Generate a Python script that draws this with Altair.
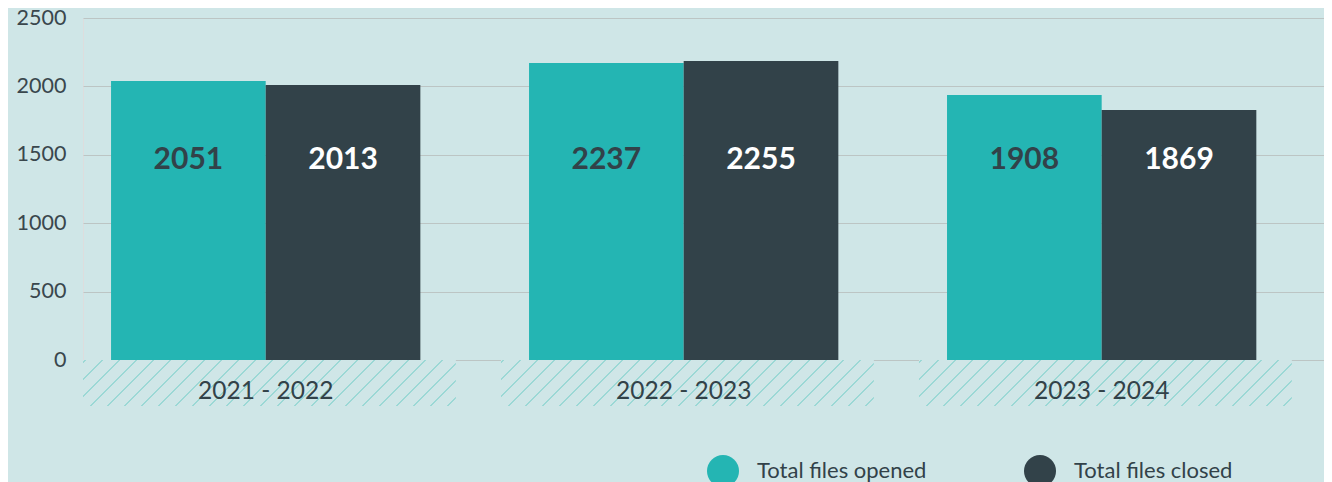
import altair as alt
import pandas as pd

# ---- data ----
periods = ["2021 - 2022", "2022 - 2023", "2023 - 2024"]
series = ["Total files opened", "Total files closed"]
opened_values = [2039, 2171, 1937]   # bar heights as drawn
closed_values = [2010, 2186, 1828]
opened_labels = ["2051", "2237", "1908"]  # printed labels
closed_labels = ["2013", "2255", "1869"]
y_ticks = [0, 500, 1000, 1500, 2000, 2500]
label_level = 1459

rows = []
for i, p in enumerate(periods):
    rows.append({"period": p, "series": series[0], "value": opened_values[i], "label": opened_labels[i]})
    rows.append({"period": p, "series": series[1], "value": closed_values[i], "label": closed_labels[i]})
df = pd.DataFrame(rows)
band_df = pd.DataFrame({"period": periods})

# ---- style ----
BG = "#cfe6e7"
TEAL = "#24b5b3"
DARK = "#324249"
GRID = "#bcc5c4"
HATCH = "#9bd8d5"
FONT = "Lato"

W, H = 1241, 342
HATCH_H = 46

# hatch band geometry (px) -> gradient stripes
h_pin, h_pout = 0.108, 0.0385
step = W / (3 - h_pin + 2 * h_pout)
bw = step * (1 - h_pin)
ax = 1.0
ay = HATCH_H / bw
norm = ax * ax + ay * ay
k = (ax + ay) / norm
gx2, gy2 = ax * k, ay * k
t_scale = gx2 / (gx2 * gx2 + gy2 * gy2)
period_t = (17.0 / bw) * t_scale
thick_t = (1.5 / bw) * t_scale
stops = [alt.GradientStop(offset=0, color=BG)]
s = 0.004
while s + thick_t < 1:
    stops += [alt.GradientStop(offset=round(s, 5), color=BG),
              alt.GradientStop(offset=round(s, 5), color=HATCH),
              alt.GradientStop(offset=round(s + thick_t, 5), color=HATCH),
              alt.GradientStop(offset=round(s + thick_t, 5), color=BG)]
    s += period_t
stops.append(alt.GradientStop(offset=1, color=BG))
gradient = alt.LinearGradient(gradient="linear", stops=stops, x1=0, y1=0, x2=gx2, y2=gy2)

hatch = alt.Chart(band_df).mark_rect(fill=gradient).encode(
    x=alt.X("period:N", sort=periods,
            scale=alt.Scale(paddingInner=h_pin, paddingOuter=h_pout, align=0), axis=None),
    y=alt.value(H),
    y2=alt.value(H + HATCH_H),
)

xscale = alt.Scale(paddingInner=0.26, paddingOuter=0.1145, align=0.293)
yscale = alt.Scale(domain=[0, 2500], nice=False)

bars = alt.Chart(df).mark_bar().encode(
    x=alt.X("period:N", sort=periods, scale=xscale,
            axis=alt.Axis(title=None, labelFontSize=24.5, labelColor=DARK, labelPadding=19,
                          ticks=False, domain=False, labelAngle=0, grid=False, zindex=1,
                          labelFont=FONT)),
    xOffset=alt.XOffset("series:N", sort=series, scale=alt.Scale(paddingInner=0, paddingOuter=0)),
    y=alt.Y("value:Q", scale=yscale,
            axis=alt.Axis(values=y_ticks, title=None, domain=False, ticks=False, format="d",
                          labelPadding=17, labelFontSize=21.5, labelColor="#3a474d",
                          grid=True, gridColor=GRID, gridWidth=1, labelFont=FONT)),
    color=alt.Color("series:N", sort=series,
                    scale=alt.Scale(domain=series, range=[TEAL, DARK]),
                    legend=alt.Legend(orient="none", legendX=624, legendY=437,
                                      direction="horizontal", title=None,
                                      symbolType="circle", symbolSize=1024,
                                      symbolStrokeWidth=0, symbolOpacity=1,
                                      labelFontSize=22, labelColor=DARK, labelFont=FONT,
                                      labelOffset=18, columnPadding=97, padding=0,
                                      labelLimit=400)),
)

labels = alt.Chart(df).mark_text(font=FONT, fontSize=30, fontWeight="bold", baseline="middle").encode(
    x=alt.X("period:N", sort=periods, scale=xscale),
    xOffset=alt.XOffset("series:N", sort=series),
    y=alt.datum(label_level, type="quantitative"),
    text="label:N",
    color=alt.condition(alt.datum.series == series[0], alt.value(DARK), alt.value("white")),
)

chart = alt.layer(hatch, alt.layer(bars, labels)).resolve_scale(x="independent").properties(
    width=W, height=H,
    autosize=alt.AutoSizeParams(type="none"),
    padding={"left": 75, "top": 10, "right": 0, "bottom": 122},
    background=BG,
).configure_view(stroke=None).configure(font=FONT)

chart.save("out.html", embed_options={"renderer": "svg", "actions": False})
